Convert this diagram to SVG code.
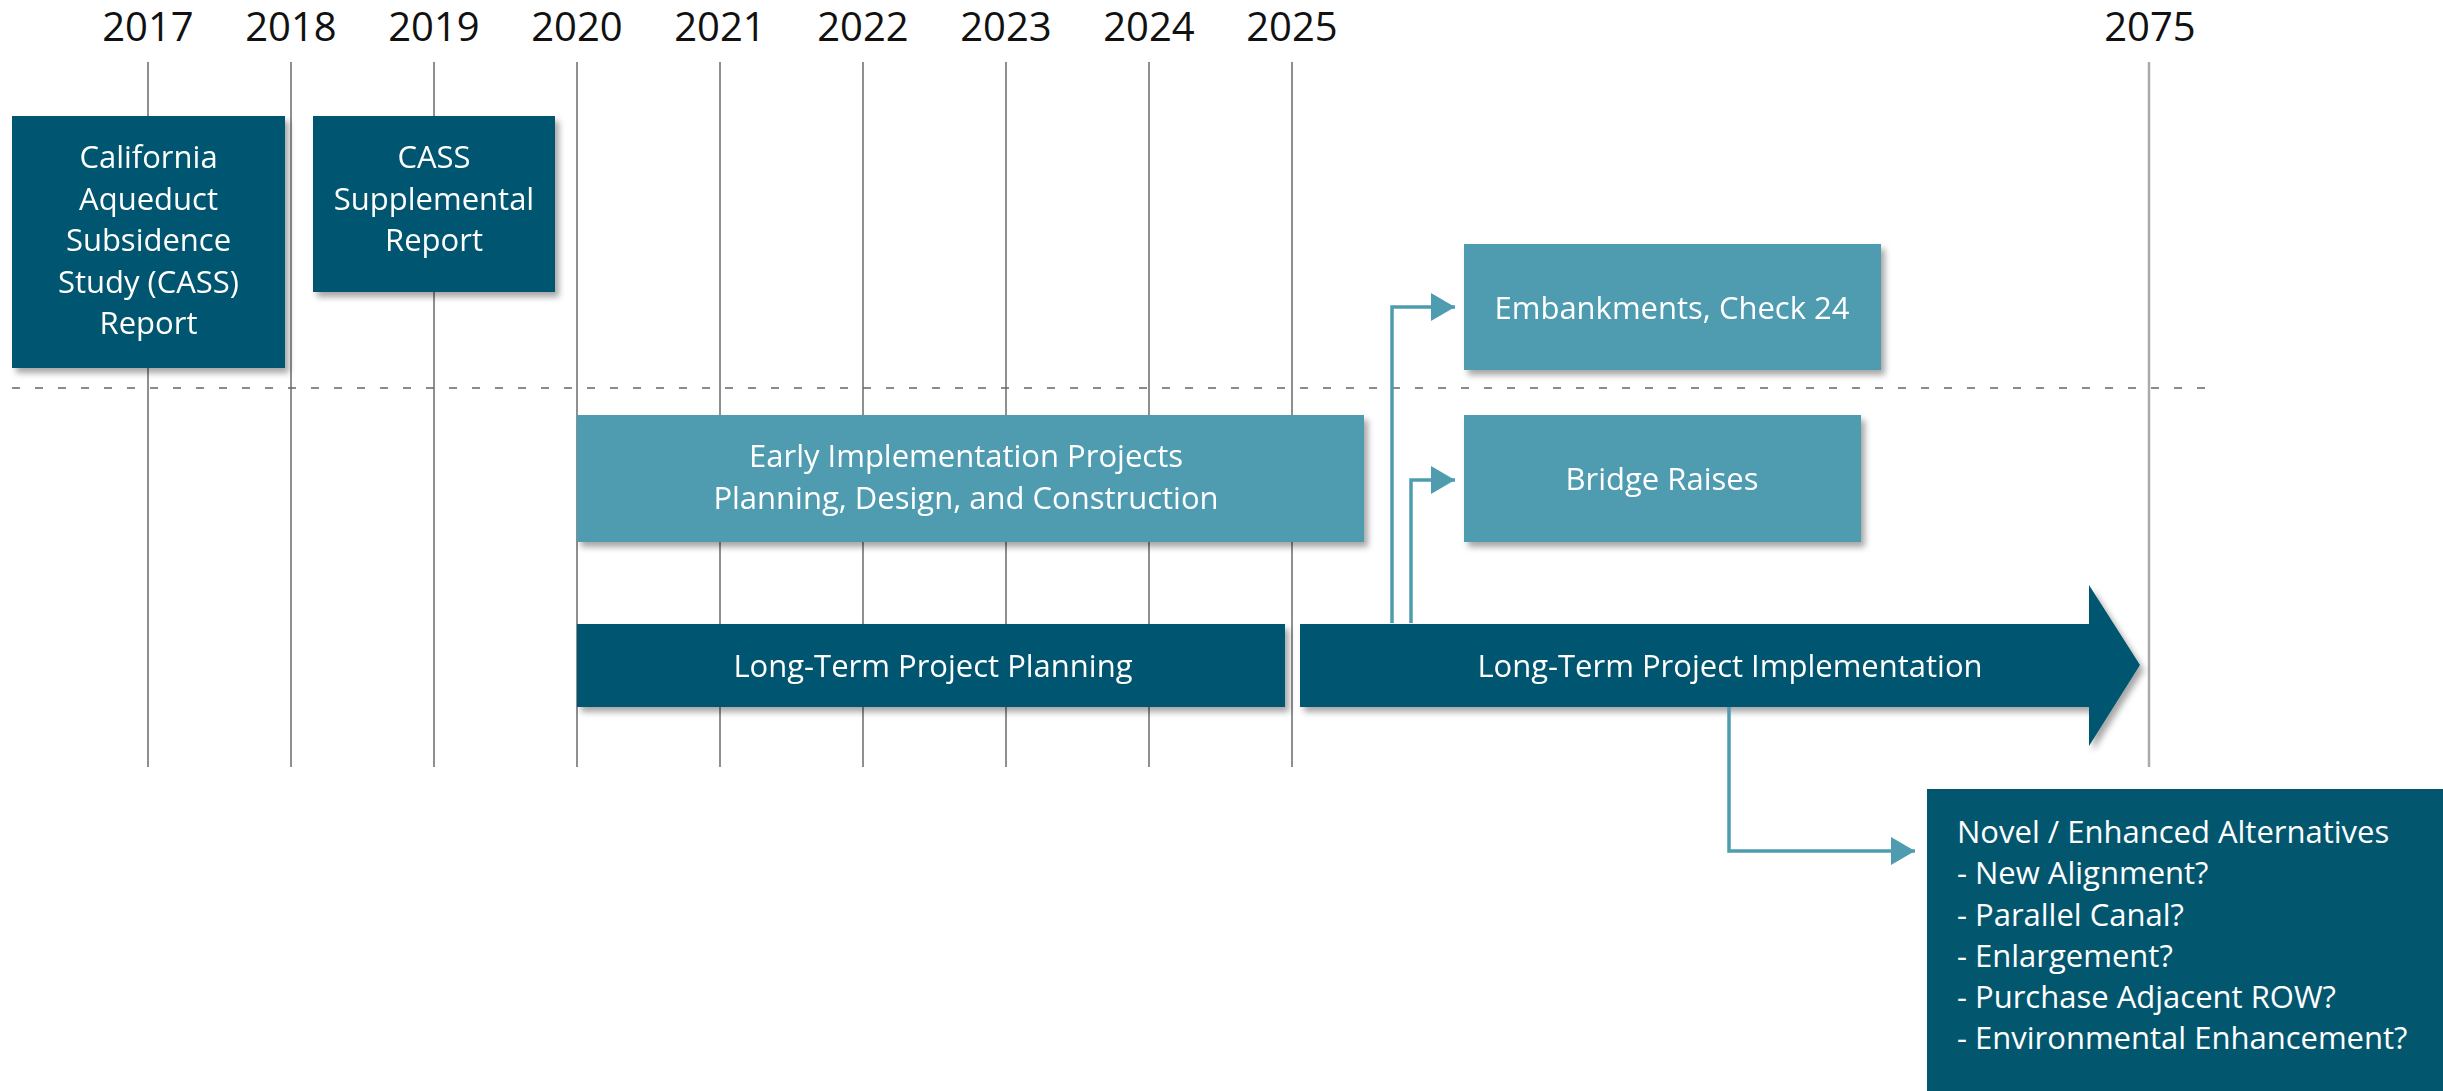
<svg xmlns="http://www.w3.org/2000/svg" width="2443" height="1091" viewBox="0 0 2443 1091">
  <style>
    .year { font-family: "Open Sans", "Liberation Sans", sans-serif; font-size: 40px; fill: #111; text-anchor: middle; }
    .grid { stroke: #8f8f8f; stroke-width: 2; fill: none; }
    .dark { fill: #02576F; }
    .light { fill: #4F9CB1; }
    .label { font-family: "Open Sans", "Liberation Sans", sans-serif; font-size: 31px; fill: #ffffff; text-anchor: middle; }
    .list { font-family: "Open Sans", "Liberation Sans", sans-serif; font-size: 31px; fill: #ffffff; }
    .conn { stroke: #4F9CB1; stroke-width: 3.5; fill: none; }
  </style>
  <defs>
    <filter id="shadow" x="-10%" y="-10%" width="125%" height="140%">
      <feDropShadow dx="4" dy="5" stdDeviation="3" flood-color="#000" flood-opacity="0.35"/>
    </filter>
    <marker id="head" markerUnits="userSpaceOnUse" markerWidth="26" markerHeight="30" refX="24" refY="14" orient="auto">
      <path d="M0,0 L24,14 L0,28 Z" fill="#4F9CB1"/>
    </marker>
  </defs>

  <rect width="2443" height="1091" fill="#ffffff"/>

  <!-- year axis -->
  <g id="axis">
    <text class="year" x="148" y="41">2017</text>
    <text class="year" x="291" y="41">2018</text>
    <text class="year" x="434" y="41">2019</text>
    <text class="year" x="577" y="41">2020</text>
    <text class="year" x="720" y="41">2021</text>
    <text class="year" x="863" y="41">2022</text>
    <text class="year" x="1006" y="41">2023</text>
    <text class="year" x="1149" y="41">2024</text>
    <text class="year" x="1292" y="41">2025</text>
    <text class="year" x="2150" y="41">2075</text>
    <path class="grid" d="M148,62V767 M291,62V767 M434,62V767 M577,62V767 M720,62V767 M863,62V767 M1006,62V767 M1149,62V767 M1292,62V767"/>
    <path d="M2149,62V767" stroke="#aaaaaa" stroke-width="2.5"/>
    <path d="M12,388H2218" stroke="#666" stroke-width="1.5" stroke-dasharray="8 15"/>
  </g>

  <g id="cass-report" filter="url(#shadow)">
    <rect class="dark" x="12" y="116" width="273" height="252"/>
    <text class="label" x="148.5" y="168">California</text>
    <text class="label" x="148.5" y="209.5">Aqueduct</text>
    <text class="label" x="148.5" y="251">Subsidence</text>
    <text class="label" x="148.5" y="292.5">Study (CASS)</text>
    <text class="label" x="148.5" y="334">Report</text>
  </g>

  <g id="cass-supplemental" filter="url(#shadow)">
    <rect class="dark" x="313" y="116" width="242" height="176"/>
    <text class="label" x="434" y="168">CASS</text>
    <text class="label" x="434" y="209.5">Supplemental</text>
    <text class="label" x="434" y="251">Report</text>
  </g>

  <g id="early-implementation" filter="url(#shadow)">
    <rect class="light" x="577" y="415" width="787" height="127"/>
    <text class="label" x="966" y="467">Early Implementation Projects</text>
    <text class="label" x="966" y="509">Planning, Design, and Construction</text>
  </g>

  <g id="long-term-planning" filter="url(#shadow)">
    <rect class="dark" x="577" y="624" width="708" height="83"/>
    <text class="label" x="933" y="677">Long-Term Project Planning</text>
  </g>

  <g id="long-term-implementation" filter="url(#shadow)">
    <path class="dark" d="M1300,624 H2089 V585 L2140,665 L2089,746 V707 H1300 Z"/>
    <text class="label" x="1730" y="677">Long-Term Project Implementation</text>
  </g>

  <g id="embankments" filter="url(#shadow)">
    <rect class="light" x="1464" y="244" width="417" height="126"/>
    <text class="label" x="1672" y="319">Embankments, Check 24</text>
  </g>

  <g id="bridge-raises" filter="url(#shadow)">
    <rect class="light" x="1464" y="415" width="397" height="127"/>
    <text class="label" x="1662" y="490">Bridge Raises</text>
  </g>

  <g id="novel-alternatives">
    <rect class="dark" x="1927" y="789" width="516" height="302"/>
    <text class="list" x="1957" y="843">Novel / Enhanced Alternatives</text>
    <text class="list" x="1957" y="884">- New Alignment?</text>
    <text class="list" x="1957" y="925.5">- Parallel Canal?</text>
    <text class="list" x="1957" y="966.5">- Enlargement?</text>
    <text class="list" x="1957" y="1008">- Purchase Adjacent ROW?</text>
    <text class="list" x="1957" y="1049">- Environmental Enhancement?</text>
  </g>

  <g id="connectors">
    <path class="conn" d="M1392,623 V307 H1455" marker-end="url(#head)"/>
    <path class="conn" d="M1411,623 V480 H1455" marker-end="url(#head)"/>
    <path class="conn" d="M1729,707 V851 H1915" marker-end="url(#head)"/>
  </g>
</svg>
